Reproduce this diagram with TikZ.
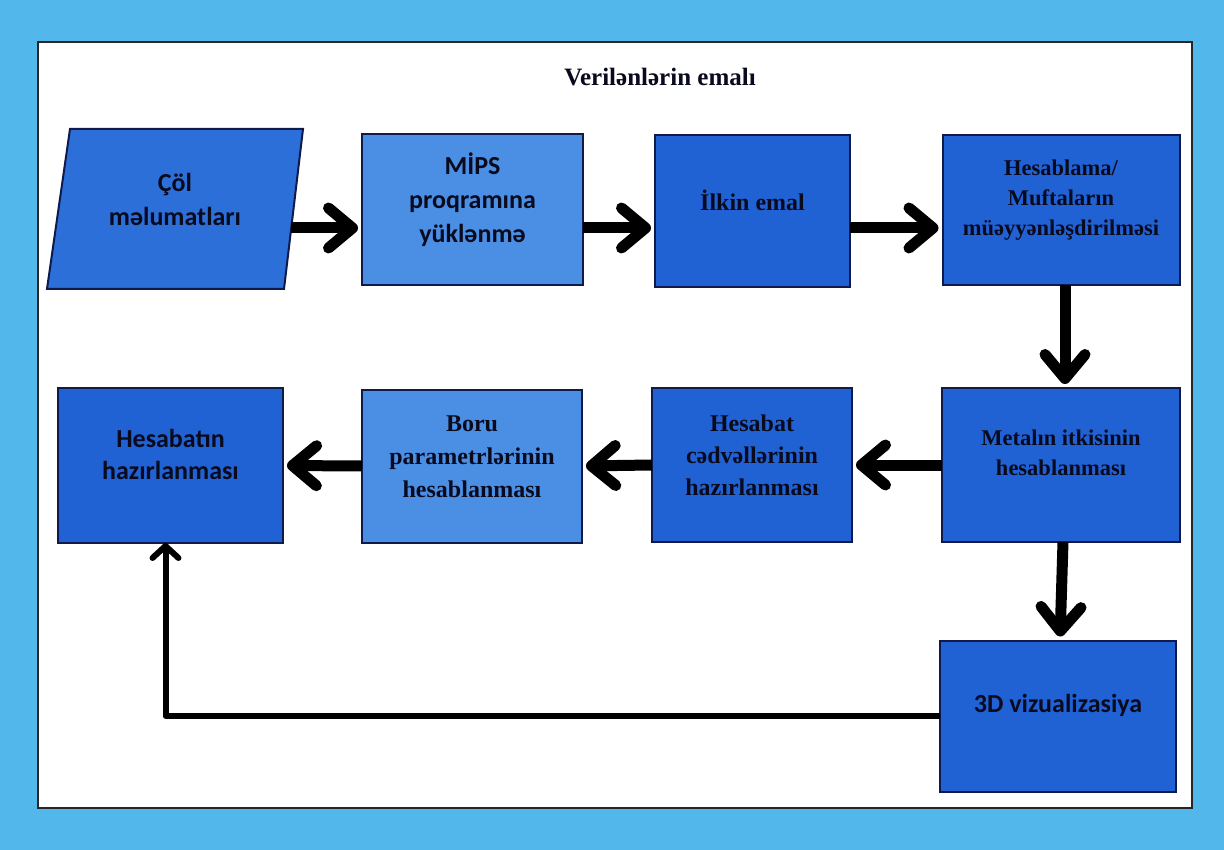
\documentclass[tikz,border=0pt]{standalone}
\usepackage{fontspec}
\setmainfont{Liberation Serif}
\newfontfamily\sansf{Carlito}
\usetikzlibrary{arrows.meta}
\definecolor{bgcyan}{HTML}{52B7EA}
\definecolor{darkbox}{HTML}{2062D4}
\definecolor{lightbox}{HTML}{4A8FE3}
\definecolor{midbox}{HTML}{2C6FD8}
\definecolor{edge}{HTML}{0D1A4A}
\definecolor{ink}{HTML}{0A0A1E}
\tikzset{
  boxd/.style={draw=edge, line width=2pt, fill=darkbox, inner sep=0pt, outer sep=0pt},
  boxl/.style={boxd, fill=lightbox},
  sanstxt/.style={font=\sansf\bfseries\fontsize{26}{34}\selectfont, text=ink, align=center},
  seriftxt/.style={font=\bfseries\fontsize{24}{33}\selectfont, text=ink, align=center},
  bigarrow/.style={line width=11pt, draw=black, shorten >=4pt,
    -{Straight Barb[length=24pt,width=40pt,line cap=round,line join=round]}},
  thinarrow/.style={line width=6pt, draw=black, line join=round,
    -{Straight Barb[length=12pt,width=26pt,line cap=round,line join=round]}}
}
\begin{document}
\begin{tikzpicture}[x=1pt,y=-1pt]
\fill[bgcyan] (0,0) rectangle (1224,850);
\useasboundingbox (0,0) rectangle (1224,850);
\draw[line width=2pt, draw=black!85, fill=white] (38,42) rectangle (1192,808);

\node[font=\bfseries\fontsize{25}{30}\selectfont, text=ink] (title) at (660,77) {Verilənlərin emalı};

% parallelogram
\draw[draw=edge, line width=2pt, fill=midbox] (70,129) -- (303,129) -- (284,289) -- (47,289) -- cycle;
\node[minimum width=232pt, minimum height=160pt, inner sep=0pt, outer sep=0pt] (col) at (175,209) {};
\node[sanstxt] (colt) at (175,199) {Çöl\\məlumatları};

\node[boxl, minimum width=221pt, minimum height=151pt] (mips) at (472.5,210) {};
\node[sanstxt] (mipst) at (472.5,200) {MİPS\\proqramına\\yüklənmə};

\node[boxd, minimum width=195pt, minimum height=152pt] (ilk) at (752.5,211) {};
\node[seriftxt] (ilkt) at (752.5,200) {İlkin emal};

\node[boxd, minimum width=237pt, minimum height=150pt] (hes) at (1061,210) {};
\node[seriftxt, font=\bfseries\fontsize{22.5}{30}\selectfont] (hest) at (1061,200) {Hesablama/\\Muftaların\\müəyyənləşdirilməsi};

\node[boxd, minimum width=225pt, minimum height=155pt] (hz) at (170.5,465.5) {};
\node[sanstxt, font=\sansf\bfseries\fontsize{26}{32}\selectfont] (hzt) at (170.5,454) {Hesabatın\\hazırlanması};

\node[boxl, minimum width=220pt, minimum height=153pt] (boru) at (472,466) {};
\node[seriftxt] (borut) at (472,457) {Boru\\parametrlərinin\\hesablanması};

\node[boxd, minimum width=200pt, minimum height=154pt] (cdv) at (752,465) {};
\node[seriftxt, font=\bfseries\fontsize{24}{32}\selectfont] (cdvt) at (752,455) {Hesabat\\cədvəllərinin\\hazırlanması};

\node[boxd, minimum width=238pt, minimum height=154pt] (met) at (1061,465) {};
\node[seriftxt, font=\bfseries\fontsize{22.5}{30}\selectfont] (mett) at (1061,453) {Metalın itkisinin\\hesablanması};

\node[boxd, minimum width=236pt, minimum height=151pt] (viz) at (1058,716) {};
\node[sanstxt] (vizt) at (1058,705) {3D vizualizasiya};

% arrows
\draw[bigarrow] ([yshift=-19pt]col.east) -- ([yshift=-18pt]mips.west);
\draw[bigarrow] ([yshift=-18pt]mips.east) -- ([yshift=-17pt]ilk.west);
\draw[bigarrow] ([yshift=-17pt]ilk.east) -- ([yshift=-18pt]hes.west);
\draw[bigarrow] ([xshift=4pt]hes.south) -- ([xshift=4pt]met.north);
\draw[bigarrow] (met.west) -- (cdv.east);
\draw[bigarrow] (cdv.west) -- (boru.east);
\draw[bigarrow] (boru.west) -- (hz.east);
\draw[bigarrow] ([xshift=2pt]met.south) -- ([xshift=2pt]viz.north);
\draw[thinarrow] (viz.west) -| ([xshift=-5pt]hz.south);
\end{tikzpicture}
\end{document}
